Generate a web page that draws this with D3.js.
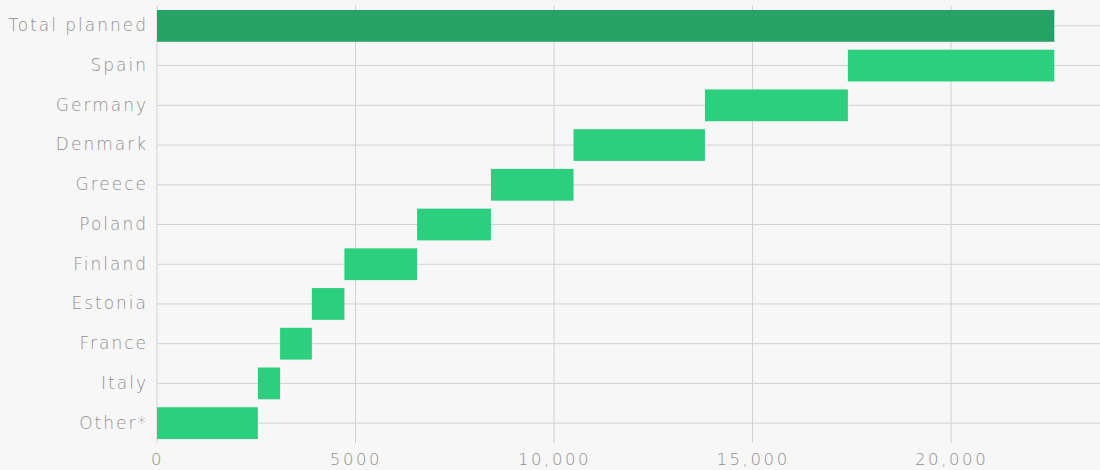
<!DOCTYPE html>
<html>
<head>
<meta charset="utf-8">
<script src="https://cdn.jsdelivr.net/npm/d3@7"></script>
<style>
  html, body { margin: 0; padding: 0; background: #f7f7f7; }
  svg { display: block; }
  .tick text { font-family: "DejaVu Sans", sans-serif; font-weight: 200; fill: #909090; }
  .y-axis .tick text { letter-spacing: 2px; }
  .x-axis .tick text { letter-spacing: 2.6px; }
</style>
</head>
<body>
<svg id="chart" width="1100" height="470"></svg>
<script>
// Planned capacity by country, stacked as a waterfall (bottom to top)
const categories = ["Other*", "Italy", "France", "Estonia", "Finland", "Poland",
                    "Greece", "Denmark", "Germany", "Spain"];
const increments = [2540, 560, 800, 820, 1830, 1860, 2080, 3310, 3600, 5200];
const totalLabel = "Total planned";
const xTicks = [0, 5000, 10000, 15000, 20000];

const svg = d3.select("#chart");
const W = 1100, H = 470;
const margin = { left: 157, right: 0, top: 6, bottom: 27 };

// Build running start/end for each step
let running = 0;
const steps = categories.map((c, i) => {
  const start = running;
  running += increments[i];
  return { name: c, start, end: running, total: false };
});
const total = running;
const rows = [{ name: totalLabel, start: 0, end: total, total: true }]
  .concat(steps.slice().reverse());

const x = d3.scaleLinear()
  .domain([0, 23750])
  .range([margin.left, W - margin.right]);

const y = d3.scaleBand()
  .domain(rows.map(d => d.name))
  .range([margin.top, H - margin.bottom])
  .paddingInner(0.2)
  .paddingOuter(0.1);

const gridColor = "#d2d2d2";

// Horizontal grid through each category
svg.append("g")
  .selectAll("line")
  .data(rows)
  .join("line")
  .attr("x1", x(0)).attr("x2", W)
  .attr("y1", d => y(d.name) + y.bandwidth() / 2)
  .attr("y2", d => y(d.name) + y.bandwidth() / 2)
  .attr("stroke", gridColor).attr("stroke-width", 1);

// Vertical grid at each tick
svg.append("g")
  .selectAll("line")
  .data(xTicks)
  .join("line")
  .attr("x1", d => x(d)).attr("x2", d => x(d))
  .attr("y1", margin.top).attr("y2", H - margin.bottom)
  .attr("stroke", gridColor).attr("stroke-width", 1);

// Bars
svg.append("g")
  .selectAll("rect")
  .data(rows)
  .join("rect")
  .attr("x", d => x(d.start))
  .attr("width", d => x(d.end) - x(d.start))
  .attr("y", d => y(d.name))
  .attr("height", y.bandwidth())
  .attr("fill", d => d.total ? "#27a266" : "#2ccf7d");

// Axes
const xAxis = d3.axisBottom(x)
  .tickValues(xTicks)
  .tickFormat(d => d >= 10000 ? d3.format(",")(d) : String(d))
  .tickSize(0)
  .tickPadding(10);

svg.append("g")
  .attr("class", "x-axis")
  .attr("transform", `translate(0,${H - margin.bottom})`)
  .call(xAxis)
  .call(g => g.select(".domain").remove())
  .selectAll("text").attr("font-size", 16.5);

const yAxis = d3.axisLeft(y).tickSize(0).tickPadding(9);
svg.append("g")
  .attr("class", "y-axis")
  .attr("transform", `translate(${margin.left},0)`)
  .call(yAxis)
  .call(g => g.select(".domain").remove())
  .selectAll("text").attr("font-size", 17);
</script>
</body>
</html>
